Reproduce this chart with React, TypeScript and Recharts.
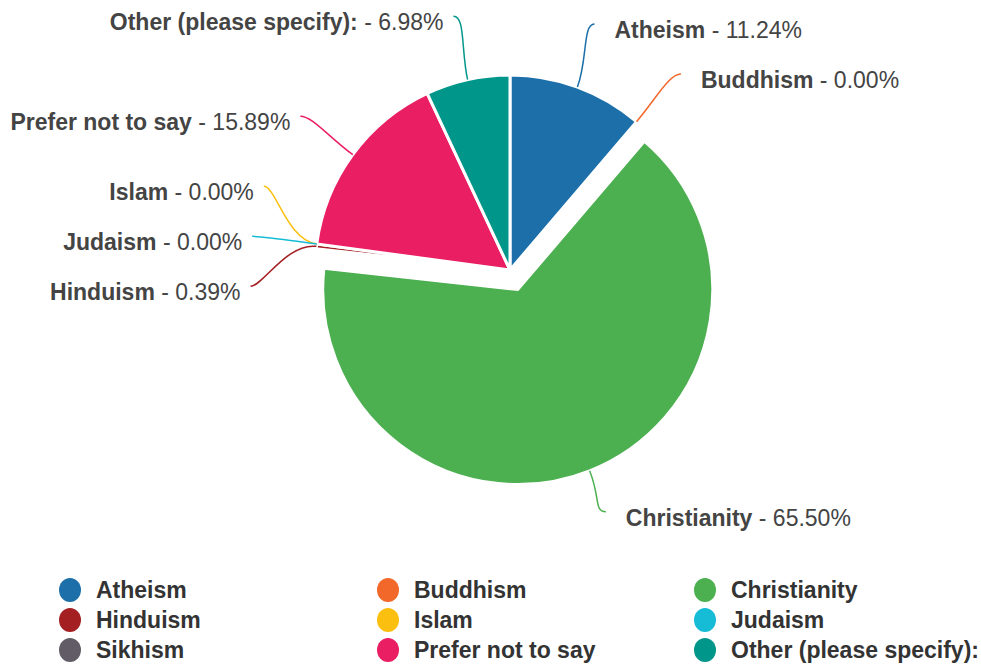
import { PieChart, Pie, Cell, Legend } from "recharts";

const religions = [
  "Atheism",
  "Buddhism",
  "Christianity",
  "Hinduism",
  "Islam",
  "Judaism",
  "Sikhism",
  "Prefer not to say",
  "Other (please specify):",
];
const shares = [11.24, 0, 65.5, 0.39, 0, 0, 0, 15.89, 6.98];
const colors = [
  "#1c6fa9",
  "#f2682a",
  "#4caf50",
  "#a41f22",
  "#fbbf0f",
  "#16bcd6",
  "#615c66",
  "#e91e63",
  "#00968a",
];
const hiddenLabels = ["Sikhism"];
const exploded = ["Christianity"];

const data = religions.map((name, i) => ({ name, value: shares[i] }));

const FONT = '"Liberation Sans", Arial, sans-serif';
const CX = 510;
const CY = 270;
const R = 195;
const EXPLODE = 21;
const ELBOW = 260;
const GAP = 50;

const rad = (deg: number) => (deg * Math.PI) / 180;

// mid angle of each slice, degrees clockwise from 12 o'clock
const total = shares.reduce((a, b) => a + b, 0);
let acc = 0;
const mids = shares.map((v) => {
  const m = ((acc + v / 2) / total) * 360;
  acc += v;
  return m;
});

const centerOf = (i: number) => {
  if (!exploded.includes(religions[i])) return { x: CX, y: CY };
  const t = rad(mids[i]);
  return { x: CX + EXPLODE * Math.sin(t), y: CY - EXPLODE * Math.cos(t) };
};

// spread labels on each side so they do not overlap
type Lab = { i: number; side: number; y: number };
const layout: Record<number, Lab> = {};
[1, -1].forEach((side) => {
  const labs: Lab[] = [];
  religions.forEach((name, i) => {
    if (hiddenLabels.includes(name)) return;
    const t = rad(mids[i]);
    const s = Math.sin(t) >= 0 ? 1 : -1;
    if (s !== side) return;
    labs.push({ i, side, y: CY - ELBOW * Math.cos(t) });
  });
  labs.sort((a, b) => a.y - b.y);
  for (let it = 0; it < 300; it++) {
    for (let k = 1; k < labs.length; k++) {
      const d = labs[k].y - labs[k - 1].y;
      if (d < GAP) {
        const sh = (GAP - d) / 2;
        labs[k - 1].y -= sh;
        labs[k].y += sh;
      }
    }
  }
  labs.forEach((l) => (layout[l.i] = l));
});

const renderLabel = (props: any) => {
  const i = props.index;
  const lab = layout[i];
  if (!lab) return null;
  const c = centerOf(i);
  const t = rad(mids[i]);
  const p0 = { x: c.x + R * Math.sin(t), y: c.y - R * Math.cos(t) };
  const c1 = { x: c.x + (R + 30) * Math.sin(t), y: c.y - (R + 30) * Math.cos(t) };
  const ey = lab.y;
  const ex = CX + lab.side * Math.sqrt(Math.max(0, ELBOW * ELBOW - (ey - CY) * (ey - CY)));
  const c2 = { x: ex - lab.side * 12, y: ey };
  const tx = ex + lab.side * (lab.side > 0 ? 20 : 10);
  return (
    <g key={`lab-${i}`}>
      <path
        d={`M${p0.x},${p0.y} C${c1.x},${c1.y} ${c2.x},${c2.y} ${ex},${ey}`}
        fill="none"
        stroke={colors[i]}
        strokeWidth={1.5}
      />
      <text
        x={tx}
        y={ey + 14}
        textAnchor={lab.side > 0 ? "start" : "end"}
        fill="#444"
        fontSize={23}
        fontFamily={FONT}
      >
        <tspan fontWeight="bold">{religions[i]}</tspan>
        <tspan> - {shares[i].toFixed(2)}%</tspan>
      </text>
    </g>
  );
};

const LegendGrid = () => (
  <div
    style={{
      display: "grid",
      gridTemplateColumns: "318px 317px 320px",
      paddingLeft: 59,
      fontFamily: FONT,
    }}
  >
    {religions.map((name, i) => (
      <div
        key={name}
        style={{ display: "flex", alignItems: "center", height: 30 }}
      >
        <span
          style={{
            width: 22,
            height: 24,
            borderRadius: "50%",
            background: colors[i],
            marginRight: 15,
            display: "inline-block",
          }}
        />
        <span style={{ fontSize: 23, fontWeight: "bold", color: "#333" }}>
          {name}
        </span>
      </div>
    ))}
  </div>
);

const exIdx = religions.indexOf(exploded[0]);
const exC = centerOf(exIdx);

export default function App() {
  return (
    <div style={{ width: 981, height: 664, background: "#fff" }}>
      <style>{`body{margin:0;}`}</style>
      <PieChart
        width={981}
        height={664}
        margin={{ top: 0, right: 0, bottom: 0, left: 0 }}
      >
        <Pie
          data={data}
          dataKey="value"
          nameKey="name"
          cx={CX}
          cy={CY}
          outerRadius={R}
          startAngle={90}
          endAngle={-270}
          stroke="#fff"
          strokeWidth={3}
          label={renderLabel}
          labelLine={false}
          isAnimationActive={false}
        >
          {data.map((d, i) => (
            <Cell
              key={d.name}
              fill={exploded.includes(d.name) ? "none" : colors[i]}
              stroke={exploded.includes(d.name) ? "none" : "#fff"}
            />
          ))}
        </Pie>
        <Pie
          data={data}
          dataKey="value"
          nameKey="name"
          cx={exC.x}
          cy={exC.y}
          outerRadius={R}
          startAngle={90}
          endAngle={-270}
          stroke="#fff"
          strokeWidth={3}
          legendType="none"
          isAnimationActive={false}
        >
          {data.map((d, i) => (
            <Cell
              key={d.name}
              fill={exploded.includes(d.name) ? colors[i] : "none"}
              stroke={exploded.includes(d.name) ? "#fff" : "none"}
            />
          ))}
        </Pie>
        <Legend
          content={() => <LegendGrid />}
          wrapperStyle={{ position: "absolute", left: 0, top: 575, width: 981 }}
        />
      </PieChart>
    </div>
  );
}
